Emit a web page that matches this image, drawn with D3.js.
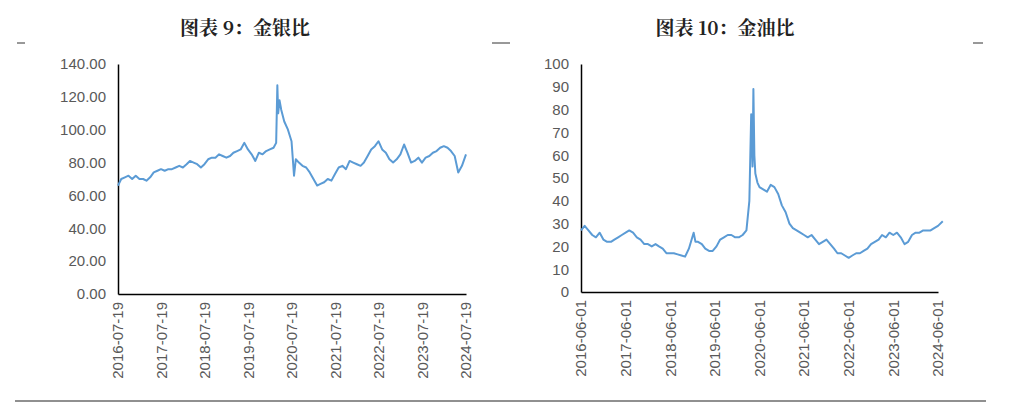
<!DOCTYPE html>
<html><head><meta charset="utf-8">
<script src="https://cdn.jsdelivr.net/npm/d3@7"></script>
<style>body{margin:0;background:#fff}text{font-family:"Liberation Sans",Arial,sans-serif}</style>
</head><body><svg id="svg" width="1013" height="406"></svg>
<script>
// ── Data ──────────────────────────────────────────────────────────────────────
const gsDates = ['2016-07-19','2016-08-15','2016-09-15','2016-10-15','2016-11-15','2016-12-15',
 '2017-01-15','2017-02-15','2017-03-15','2017-04-15','2017-05-15','2017-06-15','2017-07-15','2017-08-15','2017-09-15','2017-10-15','2017-11-15','2017-12-15',
 '2018-01-15','2018-02-15','2018-03-15','2018-04-15','2018-05-15','2018-06-15','2018-07-15','2018-08-15','2018-09-15','2018-10-15','2018-11-15','2018-12-15',
 '2019-01-15','2019-02-15','2019-03-15','2019-04-15','2019-05-15','2019-06-15','2019-07-15','2019-08-15','2019-09-15','2019-10-15','2019-11-15','2019-12-15',
 '2020-01-15','2020-02-15','2020-03-08','2020-03-18','2020-03-25','2020-04-05','2020-04-20','2020-05-15','2020-06-15','2020-07-15','2020-08-05','2020-08-20','2020-09-15','2020-10-15','2020-11-15','2020-12-15',
 '2021-01-15','2021-02-15','2021-03-15','2021-04-15','2021-05-15','2021-06-15','2021-07-15','2021-08-15','2021-09-15','2021-10-15','2021-11-15','2021-12-15',
 '2022-01-15','2022-02-15','2022-03-15','2022-04-15','2022-05-15','2022-06-15','2022-07-15','2022-08-15','2022-09-15','2022-10-15','2022-11-15','2022-12-15',
 '2023-01-15','2023-02-15','2023-03-15','2023-04-15','2023-05-15','2023-06-15','2023-07-15','2023-08-15','2023-09-15','2023-10-15','2023-11-15','2023-12-15',
 '2024-01-15','2024-02-15','2024-03-15','2024-04-15','2024-05-15','2024-06-15','2024-07-19'];
const gsValues = [66,70,71,72,70,72,
 70,70,69,71,74,75,76,75,76,76,77,78,
 77,79,81,80,79,77,79,82,83,83,85,84,
 83,84,86,87,88,92,88,85,81,86,85,87,
 88,89,92,127,110,118,112,105,100,93,72,82,80,78,77,74,
 70,66,67,68,70,69,73,77,78,76,81,80,
 79,78,80,84,88,90,93,88,86,82,80,82,
 85,91,86,80,81,83,80,83,84,86,87,89,
 90,89,87,84,74,78,85];

const goDates = ['2016-06-01','2016-07-01','2016-08-01','2016-09-01','2016-10-01','2016-11-01','2016-12-01',
 '2017-01-01','2017-02-01','2017-03-01','2017-04-01','2017-05-01','2017-06-01','2017-07-01','2017-08-01','2017-09-01','2017-10-01','2017-11-01','2017-12-01',
 '2018-01-01','2018-02-01','2018-03-01','2018-04-01','2018-05-01','2018-06-01','2018-07-01','2018-08-01','2018-09-01','2018-10-01','2018-11-01','2018-12-10','2018-12-25',
 '2019-01-15','2019-02-15','2019-03-15','2019-04-15','2019-05-15','2019-06-15','2019-07-15','2019-08-15','2019-09-15','2019-10-15','2019-11-15','2019-12-15',
 '2020-01-15','2020-02-15','2020-03-10','2020-03-25','2020-04-05','2020-04-12','2020-04-20','2020-04-28','2020-05-15','2020-06-01','2020-07-01','2020-08-01','2020-09-01','2020-10-01','2020-11-01','2020-12-01',
 '2021-01-01','2021-02-01','2021-03-01','2021-04-01','2021-05-01','2021-06-01','2021-07-01','2021-08-01','2021-09-01','2021-10-01','2021-11-01','2021-12-01',
 '2022-01-01','2022-02-01','2022-03-01','2022-04-01','2022-05-01','2022-06-01','2022-07-01','2022-08-01','2022-09-01','2022-10-01','2022-11-01','2022-12-01',
 '2023-01-01','2023-02-01','2023-03-01','2023-04-01','2023-05-01','2023-06-01','2023-07-01','2023-08-01','2023-09-01','2023-10-01','2023-11-01','2023-12-01',
 '2024-01-01','2024-02-01','2024-03-01','2024-04-01','2024-05-01','2024-06-01','2024-07-10'];
const goValues = [27,29,27,25,24,26,23,
 22,22,23,24,25,26,27,26,24,23,21,21,
 20,21,20,19,17,17,17,16.5,16,15.5,19,26,22,
 22,21,19,18,18,20,23,24,25,25,24,24,
 25,27,40,78,55,89,60,52,48,46,45,44,47,46,43,38,
 35,30,28,27,26,25,24,25,23,21,22,23,
 21,19,17,17,16,15,16,17,17,18,19,21,
 22,23,25,24,26,25,26,24,21,22,25,26,
 26,27,27,27,28,29,31];

const gsTicks = ['2016-07-19','2017-07-19','2018-07-19','2019-07-19','2020-07-19','2021-07-19','2022-07-19','2023-07-19','2024-07-19'];
const goTicks = ['2016-06-01','2017-06-01','2018-06-01','2019-06-01','2020-06-01','2021-06-01','2022-06-01','2023-06-01','2024-06-01'];

// ── Drawing ───────────────────────────────────────────────────────────────────
const svg = d3.select('#svg');
const parse = d3.timeParse('%Y-%m-%d');
const grey = '#595959';

function chart(o) {
  const data = o.dates.map((d, i) => ({ d: parse(d), v: o.values[i] }));
  const x = d3.scaleTime().domain(o.xDomain.map(parse)).range([o.x0, o.x1]);
  const y = d3.scaleLinear().domain([0, o.yMax]).range([o.y0, o.y1]);

  svg.append('text').attr('x', o.tx).attr('y', 35).attr('text-anchor', 'middle')
    .style('font-family', '"Noto Serif CJK SC","Noto Sans CJK SC",serif')
    .style('font-weight', 'bold').style('font-size', '19px').attr('fill', '#222').text(o.title);

  const ya = svg.append('g').attr('transform', `translate(${o.x0},0)`)
    .call(d3.axisLeft(y).tickValues(d3.range(0, o.yMax + 1, o.yStep)).tickSize(0).tickPadding(12).tickFormat(o.fmt));
  ya.select('.domain').attr('stroke', '#000').attr('stroke-width', 1.5);
  ya.selectAll('text').attr('fill', grey).style('font-size', '15px');

  const xa = svg.append('g').attr('transform', `translate(0,${o.y0})`)
    .call(d3.axisBottom(x).tickValues(o.ticks.map(parse)).tickSize(0).tickFormat(d3.timeFormat('%Y-%m-%d')));
  xa.select('.domain').attr('stroke', '#000').attr('stroke-width', 1.5);
  xa.selectAll('text').attr('fill', grey).style('font-size', '15px')
    .attr('text-anchor', 'end').attr('transform', 'rotate(-90)').attr('dx', '-8px').attr('dy', '0.32em').attr('x', 0).attr('y', 0);

  svg.append('path').datum(data).attr('fill', 'none').attr('stroke', '#5b9bd5').attr('stroke-width', 2)
    .attr('stroke-linejoin', 'round')
    .attr('d', d3.line().x(d => x(d.d)).y(d => y(d.v)));
}

chart({ title: '图表 9：金银比', tx: 245, dates: gsDates, values: gsValues, ticks: gsTicks,
  xDomain: ['2016-07-19', '2024-07-19'], x0: 118, x1: 466, y0: 294, y1: 64, yMax: 140, yStep: 20,
  fmt: d3.format('.2f') });
chart({ title: '图表 10：金油比', tx: 725, dates: goDates, values: goValues, ticks: goTicks,
  xDomain: ['2016-06-01', '2024-06-01'], x0: 581, x1: 938, y0: 292, y1: 64, yMax: 100, yStep: 10,
  fmt: d3.format('d') });

// decorations
[[17, 25], [492, 510], [973, 983]].forEach(([a, b]) =>
  svg.append('line').attr('x1', a).attr('x2', b).attr('y1', 43).attr('y2', 43).attr('stroke', '#333'));
svg.append('line').attr('x1', 15).attr('x2', 986).attr('y1', 401).attr('y2', 401).attr('stroke', '#222').attr('stroke-width', 1.2);
</script></body></html>
